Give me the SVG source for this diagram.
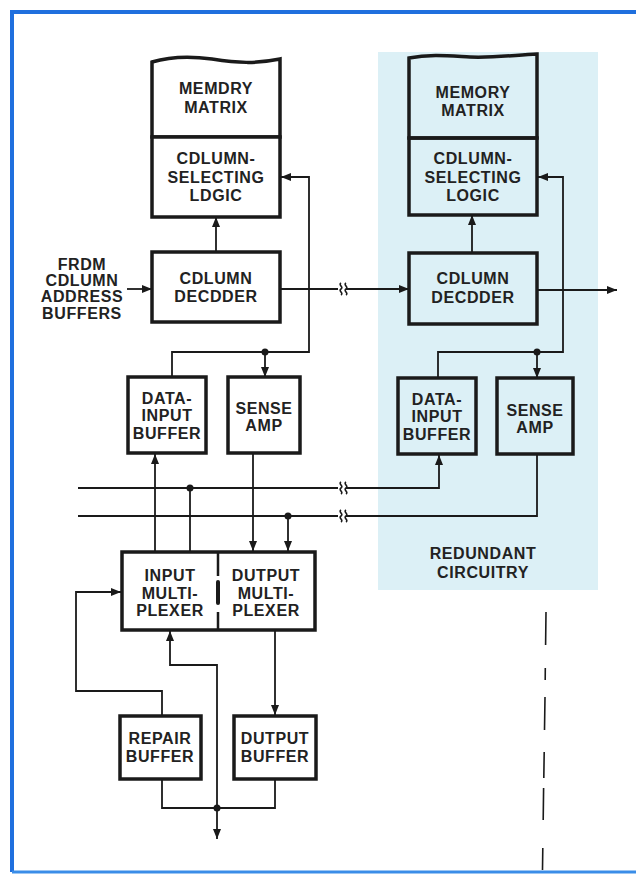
<svg xmlns="http://www.w3.org/2000/svg" width="636" height="875" viewBox="0 0 636 875">
<defs>
<marker id="ah" viewBox="0 0 10 8" refX="10" refY="4" markerWidth="10" markerHeight="8" markerUnits="userSpaceOnUse" orient="auto-start-reverse">
<path d="M0,0 L10,4 L0,8 Z" fill="#1a1a1a"/>
</marker>
<style>
.box{fill:none;stroke:#1a1a1a;stroke-width:3.5;stroke-linejoin:miter}
.wbox{fill:#ffffff;stroke:#1a1a1a;stroke-width:3.5}
.ln{fill:none;stroke:#1a1a1a;stroke-width:1.8}
.arr{fill:none;stroke:#1a1a1a;stroke-width:1.8;marker-end:url(#ah)}
.dot{fill:#1a1a1a}
.brk{fill:none;stroke:#1a1a1a;stroke-width:1.6}
text{font-family:"Liberation Sans",Arial,sans-serif;font-weight:bold;font-size:16px;letter-spacing:0.6px;fill:#222;text-anchor:middle}
</style>
</defs>
<rect x="0" y="0" width="636" height="875" fill="#ffffff"/>
<rect x="378" y="52" width="220" height="538" fill="#dcf0f6"/>
<path d="M12,872 V12 H640" fill="none" stroke="#1f6fde" stroke-width="4"/>
<path d="M12,872 H640" fill="none" stroke="#3a8de8" stroke-width="3"/>

<g id="connectors">
<path class="arr" d="M127,289 H152"/>
<path class="ln" d="M280,289 H338"/>
<path class="arr" d="M346,289 H409"/>
<path class="arr" d="M537,290 H617"/>
<path class="arr" d="M216,252 V217"/>
<path class="arr" d="M472,253 V215"/>
<path class="arr" d="M172,377 V352 H309 V177 H281"/>
<path class="arr" d="M265,352 V377"/>
<path class="arr" d="M438,378 V352 H563 V177 H538"/>
<path class="arr" d="M537,352 V378"/>
<path class="ln" d="M78,488 H338"/>
<path class="arr" d="M346,488 H439 V455"/>
<path class="ln" d="M78,516 H338"/>
<path class="ln" d="M346,516 H537 V454"/>
<path class="arr" d="M155,552 V454"/>
<path class="ln" d="M190,488 V552"/>
<path class="arr" d="M253,453 V551"/>
<path class="arr" d="M288,516 V551"/>
<path class="arr" d="M162,716 V691 H76 V592 H121"/>
<path class="arr" d="M217,839 V665 H170 V631" style="marker-start:url(#ah)"/>
<path class="arr" d="M275,630 V715"/>
<path class="ln" d="M162,779 V808 H275 V779"/>
<circle class="dot" cx="265" cy="352" r="3.5"/>
<circle class="dot" cx="537" cy="352" r="3.5"/>
<circle class="dot" cx="190" cy="488" r="3.5"/>
<circle class="dot" cx="288" cy="516" r="3.5"/>
<circle class="dot" cx="217" cy="808" r="3.5"/>
<path class="brk" d="M341,283 c-3,2 3,4 0,6 c-3,2 3,4 0,6 M346,283 c-3,2 3,4 0,6 c-3,2 3,4 0,6"/>
<path class="brk" d="M341,482 c-3,2 3,4 0,6 c-3,2 3,4 0,6 M346,482 c-3,2 3,4 0,6 c-3,2 3,4 0,6"/>
<path class="brk" d="M341,510 c-3,2 3,4 0,6 c-3,2 3,4 0,6 M346,510 c-3,2 3,4 0,6 c-3,2 3,4 0,6"/>
</g>

<g id="address-label">
<text x="82" y="270">FRDM</text>
<text x="82" y="286">CDLUMN</text>
<text x="82" y="302">ADDRESS</text>
<text x="82" y="319">BUFFERS</text>
</g>

<g id="memory-matrix">
<path class="wbox" d="M152,137 V62 C172,56 190,56 212,59 C238,63 255,64 280,59 V137 Z"/>
<text x="216" y="94">MEMDRY</text>
<text x="216" y="113">MATRIX</text>
</g>
<g id="column-selecting-logic">
<rect class="wbox" x="152" y="137" width="128" height="80"/>
<text x="216" y="164">CDLUMN-</text>
<text x="216" y="183">SELECTING</text>
<text x="216" y="201">LDGIC</text>
</g>
<g id="column-decoder">
<rect class="wbox" x="152" y="252" width="128" height="70"/>
<text x="216" y="284">CDLUMN</text>
<text x="216" y="302">DECDDER</text>
</g>

<g id="red-memory-matrix">
<path class="box" d="M409,138 V58 C430,54 450,56 470,57 C495,58 515,55 537,54 V138 Z"/>
<text x="473" y="98">MEMORY</text>
<text x="473" y="116">MATRIX</text>
</g>
<g id="red-column-selecting-logic">
<rect class="box" x="409" y="138" width="128" height="77"/>
<text x="473" y="164">CDLUMN-</text>
<text x="473" y="183">SELECTING</text>
<text x="473" y="201">LOGIC</text>
</g>
<g id="red-column-decoder">
<rect class="box" x="409" y="253" width="128" height="71"/>
<text x="473" y="284">CDLUMN</text>
<text x="473" y="303">DECDDER</text>
</g>

<g id="data-input-buffer">
<rect class="wbox" x="128" y="377" width="78" height="76"/>
<text x="167" y="404">DATA-</text>
<text x="167" y="421">INPUT</text>
<text x="167" y="439">BUFFER</text>
</g>
<g id="sense-amp">
<rect class="wbox" x="228" y="377" width="72" height="76"/>
<text x="264" y="414">SENSE</text>
<text x="264" y="431">AMP</text>
</g>
<g id="red-data-input-buffer">
<rect class="box" x="398" y="378" width="78" height="76"/>
<text x="437" y="405">DATA-</text>
<text x="437" y="422">INPUT</text>
<text x="437" y="440">BUFFER</text>
</g>
<g id="red-sense-amp">
<rect class="box" x="497" y="378" width="76" height="76"/>
<text x="535" y="416">SENSE</text>
<text x="535" y="433">AMP</text>
</g>

<g id="redundant-label">
<text x="483" y="559">REDUNDANT</text>
<text x="483" y="578">CIRCUITRY</text>
</g>

<g id="multiplexer">
<rect class="wbox" x="122" y="552" width="193" height="78"/>
<path d="M218,552 V576 M218,612 V630" stroke="#1a1a1a" stroke-width="2.5" fill="none"/>
<path d="M218,582 V603" stroke="#1a1a1a" stroke-width="4" fill="none" stroke-linecap="round"/>
<text x="170" y="581">INPUT</text>
<text x="170" y="599">MULTI-</text>
<text x="170" y="616">PLEXER</text>
<text x="266" y="581">DUTPUT</text>
<text x="266" y="599">MULTI-</text>
<text x="266" y="616">PLEXER</text>
</g>

<g id="repair-buffer">
<rect class="wbox" x="120" y="716" width="81" height="63"/>
<text x="160" y="744">REPAIR</text>
<text x="160" y="762">BUFFER</text>
</g>
<g id="output-buffer">
<rect class="wbox" x="234" y="716" width="82" height="63"/>
<text x="275" y="744">DUTPUT</text>
<text x="275" y="762">BUFFER</text>
</g>

<path d="M546,612 L545.6,645 M545.3,668 L545.2,680 M545,697 L544.5,730 M544.2,752 L543.8,778 M543.6,788 L543.2,820 M542.8,848 L542.5,870" stroke="#1a1a1a" stroke-width="1.6" fill="none"/>
</svg>
